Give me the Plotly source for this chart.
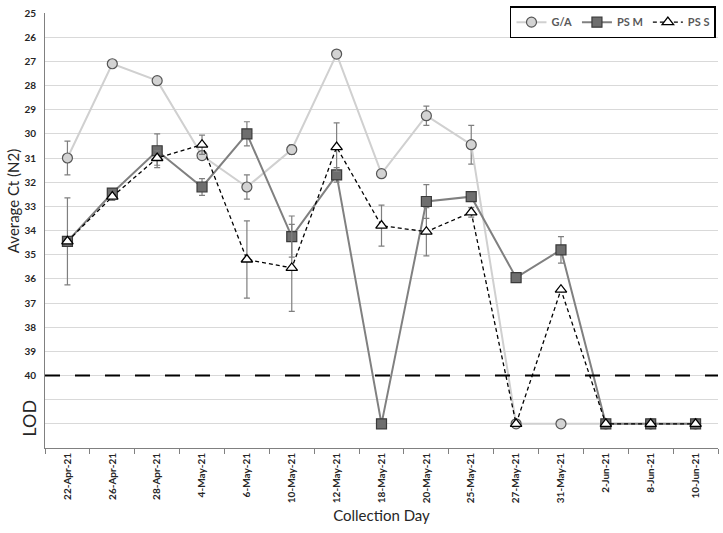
import plotly.graph_objects as go

days = ["22-Apr-21", "26-Apr-21", "28-Apr-21", "4-May-21", "6-May-21", "10-May-21",
        "12-May-21", "18-May-21", "20-May-21", "25-May-21", "27-May-21", "31-May-21",
        "2-Jun-21", "8-Jun-21", "10-Jun-21"]

ga_vals = [31.0, 27.1, 27.8, 30.9, 32.2, 30.65, 26.7, 31.65, 29.25, 30.45, 42, 42, 42, 42, 42]
ga_err = [0.7, 0, 0, 0, 0.5, 0.2, 0, 0, 0.4, 0.8, 0, 0, 0, 0, 0]

psm_vals = [34.45, 32.45, 30.7, 32.2, 30.0, 34.25, 31.7, 42, 32.8, 32.6, 35.95, 34.8, 42, 42, 42]
psm_err = [1.8, 0, 0.7, 0.35, 0.5, 0.85, 0.3, 0, 0.7, 0.1, 0, 0.55, 0, 0, 0]

pss_vals = [34.45, 32.6, 31.0, 30.45, 35.2, 35.55, 30.55, 33.8, 34.05, 33.25, 42, 36.45, 42, 42, 42]
pss_err = [0.15, 0.15, 0.3, 0.4, 1.6, 1.8, 1.0, 0.85, 1.0, 0.2, 0, 0, 0, 0, 0]

y_ticks = list(range(25, 43))
y_ticktext = [str(v) if v <= 40 else "" for v in y_ticks]
lod_value = 40

FONT = "Lato"
GRAY_TXT = "#404040"

fig = go.Figure()

err_style = dict(type="data", thickness=1.2, width=3, color="#7f7f7f")

fig.add_trace(go.Scatter(
    x=days, y=ga_vals, name="G/A", mode="lines+markers",
    line=dict(color="#d0d0d0", width=2),
    marker=dict(symbol="circle", size=10, color="#d3d3d3", line=dict(color="#555555", width=1.2)),
    error_y=dict(array=ga_err, **err_style),
))
fig.add_trace(go.Scatter(
    x=days, y=psm_vals, name="PS M", mode="lines+markers",
    line=dict(color="#808080", width=2),
    marker=dict(symbol="square", size=10, color="#6e6e6e", line=dict(color="#3a3a3a", width=1.2)),
    error_y=dict(array=psm_err, **err_style),
))
fig.add_trace(go.Scatter(
    x=days, y=pss_vals, name="PS S", mode="lines+markers",
    line=dict(color="#000000", width=1.3, dash="4px,3px"),
    marker=dict(symbol="triangle-up", size=10, color="#ffffff", line=dict(color="#000000", width=1.3)),
    error_y=dict(array=pss_err, **err_style),
))

fig.add_shape(type="line", xref="paper", x0=0, x1=1, yref="y", y0=lod_value, y1=lod_value,
              line=dict(color="#000000", width=1.8, dash="longdash"))

fig.add_annotation(text="LOD", xref="paper", x=-0.024, yref="y", y=41.75, showarrow=False,
                   xanchor="center", yanchor="middle",
                   textangle=-90, font=dict(family=FONT, size=18, color="#262626"))
fig.add_annotation(text="Average Ct (N2)", xref="paper", x=-0.048, yref="y", y=32.8, showarrow=False,
                   xanchor="center", yanchor="middle",
                   textangle=-90, font=dict(family=FONT, size=15, color="#262626"))

fig.update_layout(
    width=723, height=533,
    margin=dict(l=45, r=5, t=13, b=85, autoexpand=False),
    paper_bgcolor="white", plot_bgcolor="white",
    font=dict(family=FONT, color=GRAY_TXT),
    showlegend=True,
    legend=dict(orientation="h", x=0.997, xanchor="right", y=0.979, yanchor="middle",
                bordercolor="#000000", borderwidth=1.5, bgcolor="white",
                font=dict(family=FONT, size=11, color="#595959", weight="bold"),
                itemwidth=30, tracegroupgap=0),
    xaxis=dict(
        type="category", range=[-0.5, len(days) - 0.5], automargin=False,
        tickangle=-90, tickfont=dict(family=FONT, size=10, color="#262626", weight="bold"),
        ticks="outside", tickson="boundaries", ticklen=5, tickcolor="#808080",
        showline=True, linecolor="#808080", linewidth=1,
        showgrid=False,
        title=dict(text="Collection Day", font=dict(family=FONT, size=15, color="#262626"), standoff=8),
    ),
    yaxis=dict(
        range=[43, 25], tickvals=y_ticks, ticktext=y_ticktext, automargin=False,
        tickfont=dict(family=FONT, size=10, color="#262626", weight="bold"),
        showgrid=True, gridcolor="#d9d9d9", gridwidth=1,
        showline=True, linecolor="#808080", linewidth=1,
        zeroline=False, ticks="", ticklabelstandoff=6,
    ),
)

fig.write_html("out.html", config={"displayModeBar": False},
               post_script="document.body.style.margin='0';document.body.style.padding='0';")
